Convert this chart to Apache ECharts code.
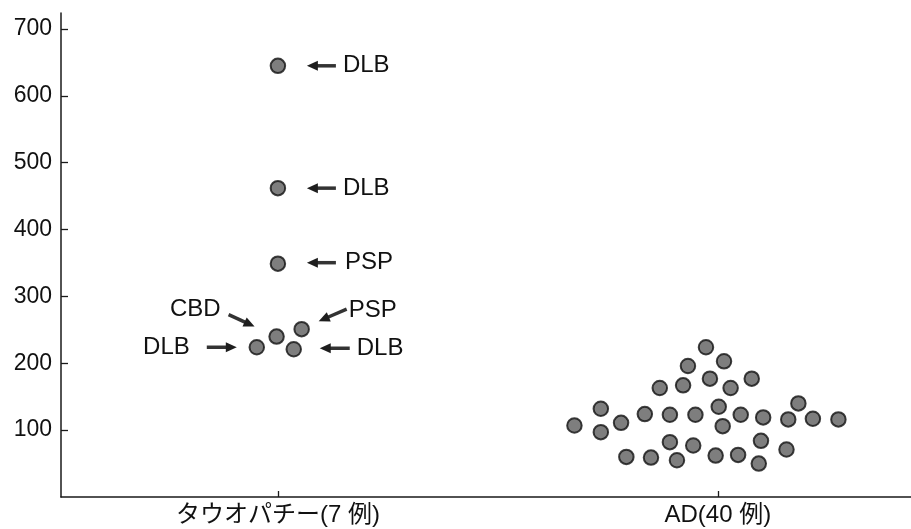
<!DOCTYPE html>
<html><head><meta charset="utf-8">
<script src="https://cdn.jsdelivr.net/npm/echarts@6/dist/echarts.min.js"></script>
<style>html,body{margin:0;padding:0;background:#fff}#c{width:911px;height:529px}</style>
</head><body><div id="c"></div>
<script>
// ---- data ----
const categories = ['タウオパチー(7 例)', 'AD(40 例)'];
const yTicks = [100, 200, 300, 400, 500, 600, 700];

const tauValues = [645, 462, 349, 224, 240, 251, 221];
const tauJitter = [0, 0, 0, -0.048, -0.003, 0.054, 0.036];
const tauLabels = ['DLB', 'DLB', 'PSP', 'DLB', 'CBD', 'PSP', 'DLB'];

const adValues = [224, 203, 196, 177, 177, 167, 163, 163, 132, 135, 140,
  124, 123, 123, 123, 119, 116, 117, 116, 107, 111, 106, 97,
  82, 77, 84, 71, 60, 59, 55, 62, 63, 50];
const adJitter = [-0.027, 0.014, -0.068, -0.018, 0.077, -0.079, -0.132, 0.029, -0.266, 0.002, 0.183,
  -0.166, -0.109, -0.051, 0.052, 0.103, 0.160, 0.216, 0.274, -0.326, -0.220, 0.011, -0.266,
  -0.109, -0.056, 0.098, 0.156, -0.208, -0.152, -0.093, -0.005, 0.046, 0.093];

// ---- build ----
const tauData = tauValues.map((v, i) => [1 + tauJitter[i], v]);
const adData = adValues.map((v, i) => [2 + adJitter[i], v]);

const FONT = "'Liberation Sans', Arial, Helvetica, sans-serif";
const CJK = "'Liberation Sans', 'Noto Sans CJK JP', sans-serif";
const AXIS = '#1a1a1a';

const dot = {
  symbol: 'circle', symbolSize: 14.5,
  itemStyle: { color: '#5e5e5e', borderColor: '#111', borderWidth: 2 }
};

const chart = echarts.init(document.getElementById('c'), null, { renderer: 'canvas' });
chart.setOption({
  animation: false,
  backgroundColor: '#fff',
  grid: { left: 61, right: 0, top: 13, bottom: 32, containLabel: false },
  xAxis: {
    type: 'value', min: 0.507, max: 2.439,
    splitLine: { show: false },
    axisLine: { show: true, onZero: false, lineStyle: { color: AXIS, width: 1.5 } },
    axisTick: { show: true, inside: true, length: 6, customValues: [1, 2], lineStyle: { color: AXIS, width: 1.3 } },
    axisLabel: {
      customValues: [1, 2], margin: 6,
      formatter: v => categories[Math.round(v) - 1] || '',
      fontSize: 24, fontFamily: CJK, color: '#111'
    }
  },
  yAxis: {
    type: 'value', min: 0, max: 724, interval: 100,
    splitLine: { show: false },
    axisLine: { show: true, lineStyle: { color: AXIS, width: 1.5 } },
    axisTick: { show: true, inside: true, length: 7, customValues: yTicks, lineStyle: { color: AXIS, width: 1.3 } },
    axisLabel: { customValues: yTicks, margin: 9, fontSize: 23, fontFamily: FONT, color: '#111' }
  },
  series: [
    Object.assign({ type: 'scatter', name: categories[0], data: tauData }, dot),
    Object.assign({ type: 'scatter', name: categories[1], data: adData }, dot)
  ]
});

// ---- annotations (arrows + labels), placed relative to each point's pixel position ----
const layout = [
  { tail: [58, 0], tip: [29, 0], text: [65, 0], align: 'left' },
  { tail: [58, 0], tip: [29, 0], text: [65, 0], align: 'left' },
  { tail: [58, -1], tip: [29, -1], text: [67, -1], align: 'left' },
  { tail: [-50, 0], tip: [-20, 0], text: [-67, 0], align: 'right' },
  { tail: [-48, -22], tip: [-22, -10], text: [-56, -27], align: 'right' },
  { tail: [45, -20], tip: [17, -8], text: [47, -19], align: 'left' },
  { tail: [56, -1], tip: [26, -1], text: [63, -1], align: 'left' }
];
const graphics = [];
tauData.forEach((d, i) => {
  const p = chart.convertToPixel({ seriesIndex: 0 }, d);
  const L = layout[i];
  const tx = p[0] + L.tail[0], ty = p[1] + L.tail[1];
  const hx = p[0] + L.tip[0], hy = p[1] + L.tip[1];
  const dx = hx - tx, dy = hy - ty, len = Math.hypot(dx, dy);
  const ux = dx / len, uy = dy / len, nx = -uy, ny = ux;
  const hl = 11, hw = 5;
  const bx = hx - ux * hl, by = hy - uy * hl;
  graphics.push({ type: 'line', silent: true, shape: { x1: tx, y1: ty, x2: bx + ux, y2: by + uy },
    style: { stroke: '#333', lineWidth: 3.5 } });
  graphics.push({ type: 'polygon', silent: true,
    shape: { points: [[hx, hy], [bx + nx * hw, by + ny * hw], [bx - nx * hw, by - ny * hw]] },
    style: { fill: '#1e1e1e' } });
  graphics.push({ type: 'text', silent: true,
    style: { text: tauLabels[i], x: p[0] + L.text[0], y: p[1] + L.text[1],
      font: '24px ' + FONT, fill: '#111',
      align: L.align, textAlign: L.align, verticalAlign: 'middle', textVerticalAlign: 'middle' } });
});
chart.setOption({ graphic: { elements: graphics } });
</script>
</body></html>
